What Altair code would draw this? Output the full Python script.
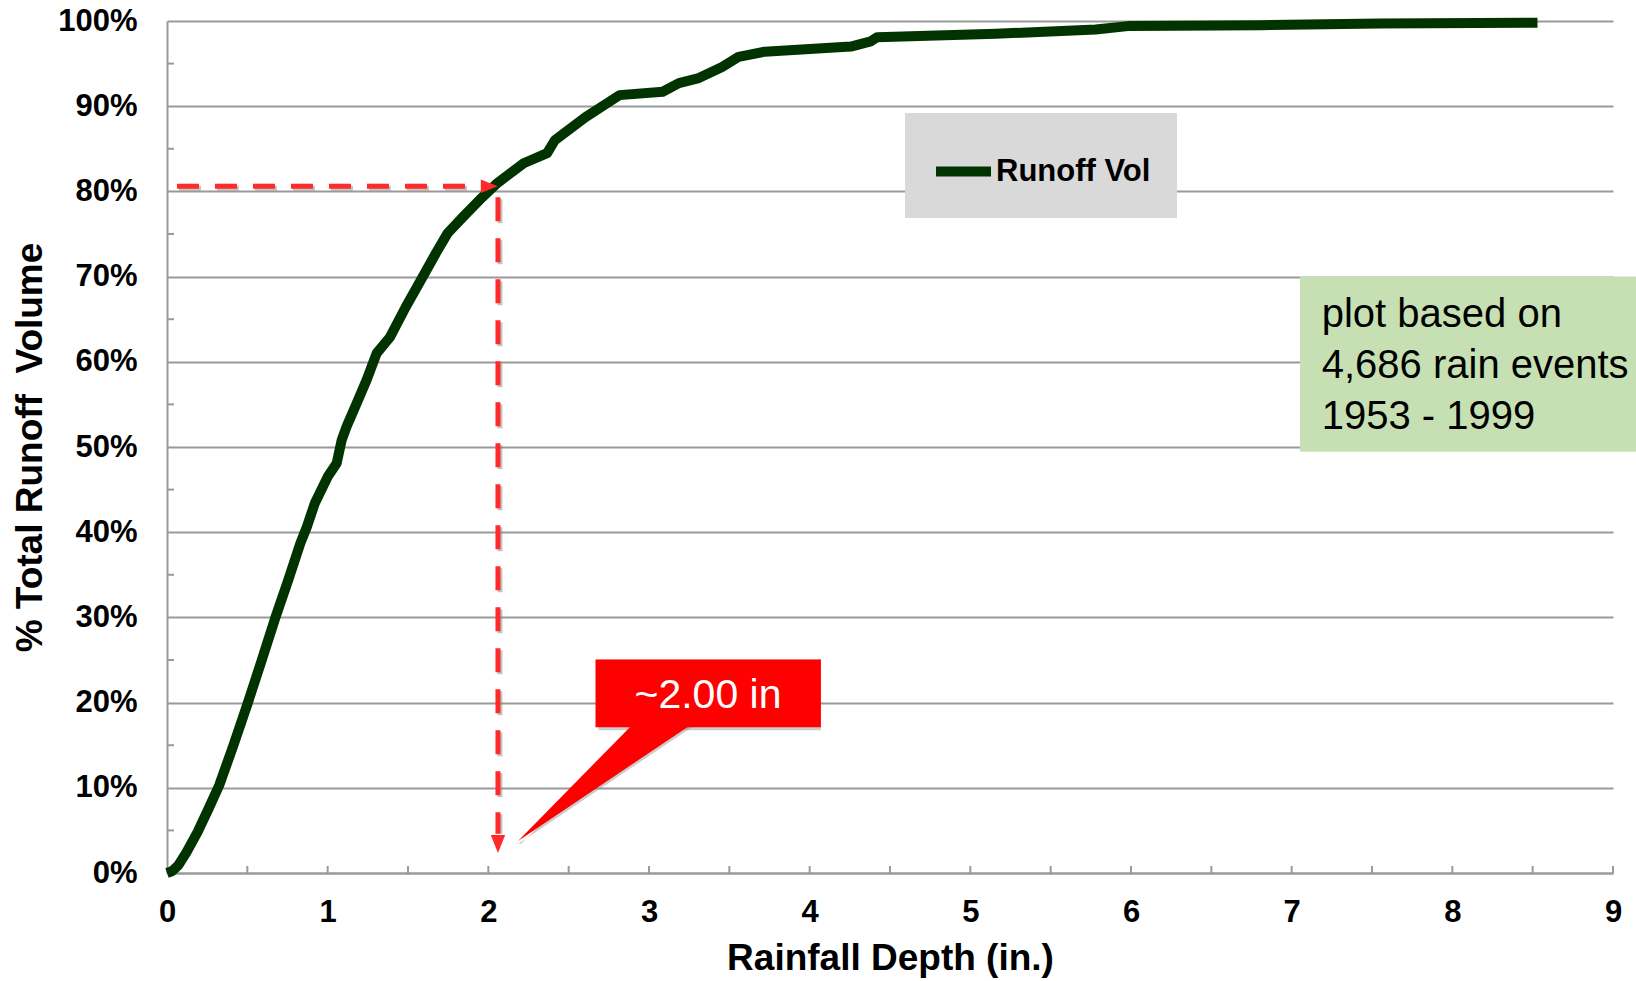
import altair as alt
import pandas as pd

# ---------------- data ----------------
depth_in = [0, 0.03, 0.07, 0.12, 0.19, 0.26, 0.325, 0.41, 0.5, 0.59, 0.675, 0.755, 0.83,
            0.87, 0.92, 1.0, 1.056, 1.087, 1.118, 1.18, 1.243, 1.305, 1.388, 1.485, 1.604,
            1.675, 1.747, 1.842, 1.962, 2.057, 2.22, 2.366, 2.414, 2.604, 2.735, 2.817,
            3.085, 3.186, 3.31, 3.455, 3.558, 3.72, 4.256, 4.38, 4.42, 5.16, 5.78, 5.98,
            6.805, 7.55, 8.53]
runoff_pct = [0, 0.2, 0.9, 2.4, 4.8, 7.6, 10.3, 14.8, 19.8, 25.0, 30.0, 34.4, 38.7,
              40.6, 43.4, 46.5, 48.1, 50.8, 52.4, 55.1, 57.9, 61.0, 62.9, 66.4, 70.4,
              72.8, 75.1, 77.0, 79.3, 81.0, 83.3, 84.5, 86.0, 88.7, 90.3, 91.3,
              91.7, 92.7, 93.3, 94.6, 95.8, 96.4, 97.0, 97.6, 98.1, 98.5, 99.0, 99.4,
              99.5, 99.7, 99.8]
series_name = "Runoff Vol"

x_ticks = [0, 1, 2, 3, 4, 5, 6, 7, 8, 9]
x_minor = [0.5, 1, 1.5, 2, 2.5, 3, 3.5, 4, 4.5, 5, 5.5, 6, 6.5, 7, 7.5, 8, 8.5, 9]
y_ticks = [0, 10, 20, 30, 40, 50, 60, 70, 80, 90, 100]
y_minor = [5, 15, 25, 35, 45, 55, 65, 75, 85, 95]

# annotation anchors (in data units)
target_depth = 2.06
target_pct = 80.6
h_guide = {"x0": [0.062], "x1": [1.99], "y0": [target_pct]}
v_guide = {"x0": [target_depth], "y0": [79.3], "y1": [4.6]}
arrow_right = {"x": [2.006], "y": [target_pct]}
arrow_down = {"x": [target_depth], "y": [3.4]}

note_lines = ["plot based on", "4,686 rain events", "1953 - 1999"]
note_box = {"x0": [7.052], "x1": [9.2], "y0": [49.45], "y1": [70.0]}
note_anchor = {"x": [7.187], "y": [64.05]}

callout_label = "~2.00 in"
callout_box = {"x0": [2.667], "x1": [4.07], "y0": [17.1], "y1": [25.07]}
callout_tail = {"y": [3.76, 18.0], "x": [2.185, 2.927], "x2": [2.185, 3.308]}
callout_anchor = {"x": [3.367], "y": [19.33]}

# ---------------- layout / style ----------------
W, H = 1446, 852
FONT = "Liberation Sans"
GRID = "#9a9a9a"
GREEN = "#003300"
RED = "#ff2a2a"
SHADOW = "#8c8c8c"

xs = alt.Scale(domain=[0, 9], nice=False)
ys = alt.Scale(domain=[0, 100], nice=False)

curve_df = pd.DataFrame({"depth": depth_in, "pct": runoff_pct, "series": series_name})

x_axis = alt.Axis(values=x_ticks, format="d", title="Rainfall Depth (in.)", grid=False,
                  ticks=False, tickSize=0, labelPadding=24, labelFont=FONT, labelFontSize=31,
                  labelFontWeight="bold", labelColor="black", labelFlush=False,
                  labelOverlap=False, domainColor=GRID, domainWidth=2,
                  titleFont=FONT, titleFontSize=37, titleFontWeight="bold",
                  titleColor="black", titlePadding=13)
y_axis = alt.Axis(values=y_ticks, title="% Total Runoff\u00a0 Volume", grid=True,
                  gridColor=GRID, gridWidth=2, ticks=False, tickSize=0,
                  labelPadding=30, labelFont=FONT, labelFontSize=31,
                  labelFontWeight="bold", labelColor="black",
                  labelExpr="datum.value + '%'", labelFlush=False, labelOverlap=False,
                  domainColor=GRID, domainWidth=2, titleFont=FONT, titleFontSize=37,
                  titleFontWeight="bold", titleColor="black", titlePadding=8)

curve = alt.Chart(curve_df).mark_line(strokeWidth=10, strokeCap="butt", strokeJoin="round").encode(
    x=alt.X("depth:Q", scale=xs, axis=x_axis),
    y=alt.Y("pct:Q", scale=ys, axis=y_axis),
    color=alt.Color("series:N", scale=alt.Scale(range=[GREEN]),
                    legend=alt.Legend(title=None, orient="none", legendX=738, legendY=92,
                                      fillColor="#d9d9d9", padding=26, symbolType="stroke",
                                      symbolStrokeWidth=10, symbolSize=3025,
                                      labelFont=FONT, labelFontSize=31,
                                      labelFontWeight="bold", labelColor="black",
                                      labelOffset=0, labelLimit=500)),
    order=alt.Order("depth:Q"),
)

xt = alt.Chart(pd.DataFrame({"v": x_minor})).mark_rule(color=GRID, strokeWidth=2).encode(
    x=alt.X("v:Q", scale=xs), y=alt.value(H - 7), y2=alt.value(H))
yt = alt.Chart(pd.DataFrame({"v": y_minor})).mark_rule(color=GRID, strokeWidth=2).encode(
    y=alt.Y("v:Q", scale=ys), x=alt.value(0), x2=alt.value(7))

note_rect = alt.Chart(pd.DataFrame(note_box)).mark_rect(color="#c6e0b4").encode(
    x=alt.X("x0:Q", scale=xs), x2="x1", y=alt.Y("y0:Q", scale=ys), y2="y1")
note_text = alt.Chart(pd.DataFrame(note_anchor)).mark_text(
    text=note_lines, align="left", baseline="alphabetic", font=FONT, fontSize=40,
    lineHeight=51, color="black").encode(x=alt.X("x:Q", scale=xs), y=alt.Y("y:Q", scale=ys))

def hrule(color, off, op):
    return alt.Chart(pd.DataFrame(h_guide)).mark_rule(
        color=color, strokeWidth=5, strokeDash=[22, 16], xOffset=off, yOffset=off, opacity=op).encode(
        x=alt.X("x0:Q", scale=xs), x2="x1", y=alt.Y("y0:Q", scale=ys))

def vrule(color, off, op):
    return alt.Chart(pd.DataFrame(v_guide)).mark_rule(
        color=color, strokeWidth=5, strokeDash=[24, 17], xOffset=off, yOffset=off, opacity=op).encode(
        x=alt.X("x0:Q", scale=xs), y=alt.Y("y0:Q", scale=ys), y2="y1")

ar = alt.Chart(pd.DataFrame(arrow_right)).mark_point(
    shape="M-1,-0.8L1,0L-1,0.8Z", size=289, filled=True, color=RED, opacity=1, strokeWidth=0).encode(
    x=alt.X("x:Q", scale=xs), y=alt.Y("y:Q", scale=ys))
ad = alt.Chart(pd.DataFrame(arrow_down)).mark_point(
    shape="M-0.8,-1L0.8,-1L0,1Z", size=324, filled=True, color=RED, opacity=1, strokeWidth=0).encode(
    x=alt.X("x:Q", scale=xs), y=alt.Y("y:Q", scale=ys))

def c_rect(color, off, op):
    return alt.Chart(pd.DataFrame(callout_box)).mark_rect(
        color=color, xOffset=off, yOffset=off, opacity=op).encode(
        x=alt.X("x0:Q", scale=xs), x2="x1", y=alt.Y("y0:Q", scale=ys), y2="y1")

def c_tail(color, off, op):
    return alt.Chart(pd.DataFrame(callout_tail)).mark_area(
        color=color, orient="horizontal", opacity=op, xOffset=off, yOffset=off).encode(
        y=alt.Y("y:Q", scale=ys), x=alt.X("x:Q", scale=xs), x2="x2")

c_text = alt.Chart(pd.DataFrame(callout_anchor)).mark_text(
    text=callout_label, align="center", baseline="alphabetic", font=FONT, fontSize=41,
    color="white").encode(x=alt.X("x:Q", scale=xs), y=alt.Y("y:Q", scale=ys))

chart = alt.layer(
    note_rect, xt, yt, curve, note_text,
    hrule(SHADOW, 2, 0.5), vrule(SHADOW, 2, 0.5), hrule(RED, 0, 1), vrule(RED, 0, 1),
    ar, ad,
    c_tail(SHADOW, 3, 0.45), c_rect(SHADOW, 3, 0.45),
    c_tail("#ff0000", 0, 1), c_rect("#ff0000", 0, 1), c_text
).properties(
    width=W, height=H,
    autosize=alt.AutoSizeParams(type="none"),
    padding={"left": 167, "top": 21, "right": 23, "bottom": 108},
    background="white",
).configure_view(stroke=None)

chart.save("out.html", embed_options={"renderer": "svg", "actions": False})
